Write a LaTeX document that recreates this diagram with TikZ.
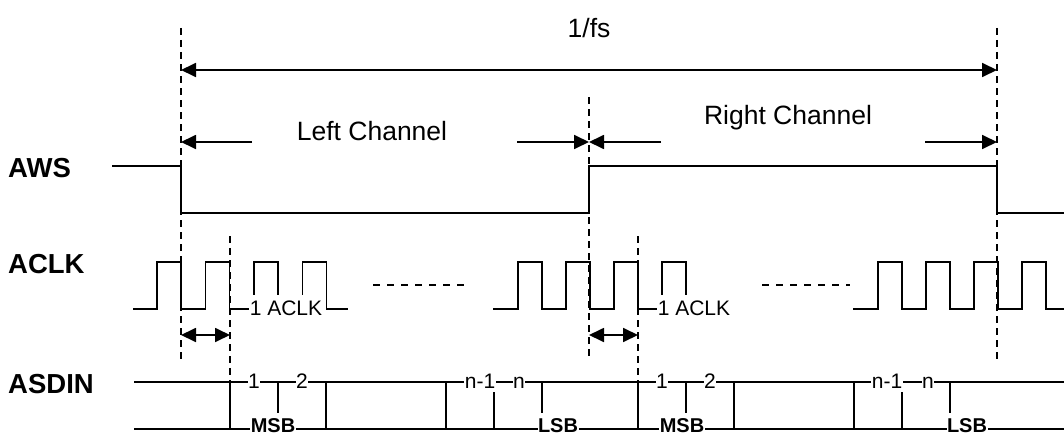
\documentclass[tikz,border=0pt]{standalone}
\usepackage{fontspec}
\setmainfont{Liberation Sans}
\usetikzlibrary{arrows.meta}
\tikzstyle{wave}=[line width=1.5pt, line join=miter]
\tikzstyle{guide}=[line width=1.3pt, dash pattern=on 7pt off 5pt]
\tikzstyle{spanarrow}=[line width=1.8pt]
\tikzstyle{signame}=[font=\fontsize{27.5}{32}\selectfont\bfseries, anchor=base west, inner sep=0pt]
\tikzstyle{chlbl}=[font=\fontsize{26.5}{31}\selectfont, inner sep=0pt]
\tikzstyle{bitlbl}=[font=\fontsize{21}{25}\selectfont, fill=white, anchor=base, inner xsep=0.5pt, inner ysep=1pt]
\tikzstyle{bitbold}=[bitlbl, font=\fontsize{20}{24}\selectfont\bfseries, inner ysep=0pt]
\tikzset{>={Triangle[length=15pt,width=14pt]}}

\begin{document}
\begin{tikzpicture}[x=1pt,y=-1pt]
\useasboundingbox (0,0) rectangle (1064,436);
\def \xa {181}
\def \xb {589}
\def \xc {997}
\def \xd {230}
\def \xe {638}
\def \hi {262}
\def \lo {309}
\def \up {382}
\def \dn {429}

% guide lines
\draw[guide] (\xa,28) -- (\xa,360);
\draw[guide] (\xc,28) -- (\xc,360);
\draw[guide] (\xb,97) -- (\xb,360);
\draw[guide] (\xd,236) -- (\xd,\up);
\draw[guide] (\xe,236) -- (\xe,\up);

% frame period
\coordinate (fsL) at (\xa,70);
\coordinate (fsR) at (\xc,70);
\draw[spanarrow,<->] (fsL) -- (fsR);
\node[chlbl] (fs) at (589,28) {1/fs};

% channels
\coordinate (lcA) at (252,142);
\coordinate (lcB) at (517,142);
\coordinate (rcA) at (661,142);
\coordinate (rcB) at (925,142);
\draw[spanarrow,->] (lcA) -- (\xa,142);
\draw[spanarrow,->] (lcB) -- (\xb,142);
\draw[spanarrow,->] (rcA) -- (\xb,142);
\draw[spanarrow,->] (rcB) -- (\xc,142);
\node[chlbl] (left) at (372,131) {Left Channel};
\node[chlbl] (right) at (788,118) {Right Channel};

% signal names
\node[signame] (aws) at (8,177) {AWS};
\node[signame] (aclk) at (8,273) {ACLK};
\node[signame] (asdin) at (8,393) {ASDIN};

% AWS
\draw[wave] (112,166) -- (\xa,166) -- (\xa,213) -- (\xb,213) -- (\xb,166)
  -- (\xc,166) -- (\xc,213) -- (1064,213);

% ACLK
\draw[wave] (133,\lo) \foreach \x in {157,205.5,254,302.5} {
  -- (\x,\lo) -- (\x,\hi) -- (\x+24,\hi) -- (\x+24,\lo) } -- (348,\lo);
\draw[wave] (493,\lo) \foreach \x in {518,566,614,662} {
  -- (\x,\lo) -- (\x,\hi) -- (\x+24,\hi) -- (\x+24,\lo) } -- (730,\lo);
\draw[wave] (853,\lo) \foreach \x in {878,926,974,1022} {
  -- (\x,\lo) -- (\x,\hi) -- (\x+24,\hi) -- (\x+24,\lo) } -- (1064,\lo);
\node[bitlbl, text height=19pt, text depth=1pt] (clkA) at (286,315) {1 ACLK};
\node[bitlbl, text height=19pt, text depth=1pt] (clkB) at (694,315) {1 ACLK};
\draw[wave, dash pattern=on 7pt off 7pt] (373,285) -- (465,285);
\draw[wave, dash pattern=on 7pt off 7pt] (762,285) -- (850,285);

% delay of one clock
\coordinate (dA) at (\xa,335);
\coordinate (dB) at (\xd,335);
\coordinate (dC) at (\xb,335);
\coordinate (dD) at (\xe,335);
\draw[spanarrow,<->] (dA) -- (dB);
\draw[spanarrow,<->] (dC) -- (dD);

% ASDIN
\draw[wave] (134,\up) -- (1064,\up);
\draw[wave] (134,\dn) -- (1064,\dn);
\foreach \x in {\xd,326,446,\xe,734,854}
  \draw[wave] (\x,\up) -- (\x,\dn);
\foreach \x in {278,542,686,950}
  \draw[wave] (\x,\up) -- (\x,413);
\foreach \x in {494,902}
  \draw[wave] (\x,392) -- (\x,\dn);
\node[bitlbl] (b1) at (254,388) {1};
\node[bitlbl] (b2) at (302,388) {2};
\node[bitlbl] (bn1) at (480,388) {n-1};
\node[bitlbl] (bn) at (519,388) {n};
\node[bitlbl] (c1) at (662,388) {1};
\node[bitlbl] (c2) at (710,388) {2};
\node[bitlbl] (cn1) at (887,388) {n-1};
\node[bitlbl] (cn) at (928,388) {n};
\node[bitbold] (msbA) at (273,432) {MSB};
\node[bitbold] (lsbA) at (558,432) {LSB};
\node[bitbold] (msbB) at (682,432) {MSB};
\node[bitbold] (lsbB) at (967,432) {LSB};
\end{tikzpicture}
\end{document}
